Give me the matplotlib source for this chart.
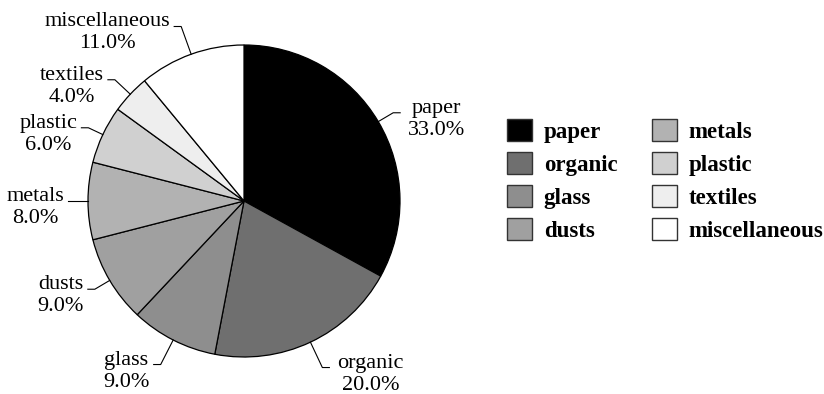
import numpy as np
import matplotlib
matplotlib.use("Agg")
import matplotlib.pyplot as plt

# Municipal solid waste composition (%)
categories = ["paper", "organic", "glass", "dusts", "metals", "plastic", "textiles", "miscellaneous"]
shares = [33.0, 20.0, 9.0, 9.0, 8.0, 6.0, 4.0, 11.0]
colors = ["#000000", "#6f6f6f", "#8e8e8e", "#a0a0a0", "#b2b2b2", "#d0d0d0", "#eeeeee", "#ffffff"]

W, H = 824, 394
plt.rcParams["font.family"] = ["Liberation Serif", "DejaVu Serif"]
LABEL_SIZE = 16

fig = plt.figure(figsize=(W / 100, H / 100), dpi=100)
ax = fig.add_axes([0, 0, 1, 1])

cx, cy, r = 244, H - 201, 156
wedges, _ = ax.pie(shares, colors=colors, startangle=90, counterclock=False,
                   center=(cx, cy), radius=r, frame=True,
                   wedgeprops=dict(edgecolor="black", linewidth=0.9))
ax.set_xlim(0, W)
ax.set_ylim(0, H)
ax.set_aspect("equal")
ax.axis("off")

renderer = fig.canvas.get_renderer()

# leader lines: radial spoke to an elliptical ring, then a short horizontal tick
rx, ry = 1.083 * r, 1.205 * r
tick, line_step = 7, 22
gap = {1: 8, -1: 4}
for w, name, val in zip(wedges, categories, shares):
    ang = np.deg2rad((w.theta1 + w.theta2) / 2)
    c, s = np.cos(ang), np.sin(ang)
    t = 1.0 / np.sqrt((c / rx) ** 2 + (s / ry) ** 2)
    p0 = (cx + r * c, cy + r * s)
    p1 = (cx + t * c, cy + t * s)
    side = 1 if c > 1e-6 else -1
    p2 = (p1[0] + side * tick, p1[1])
    ax.plot([p0[0], p1[0], p2[0]], [p0[1], p1[1], p2[1]], color="black", lw=0.8)

    # both lines are centred on a common axis; the name sits on the tick's baseline
    pct = f"{val:.1f}%"
    t1 = ax.text(0, 0, name, fontsize=LABEL_SIZE)
    t2 = ax.text(0, 0, pct, fontsize=LABEL_SIZE)
    w1 = t1.get_window_extent(renderer).width
    w2 = t2.get_window_extent(renderer).width
    wmax = max(w1, w2)
    xc = p2[0] + side * (gap[side] + wmax / 2)
    for txt, y in ((t1, p2[1]), (t2, p2[1] - line_step)):
        txt.set_position((xc, y))
        txt.set_ha("center")
        txt.set_va("baseline")

leg = ax.legend(wedges, categories, ncol=2, loc="upper left",
                bbox_to_anchor=(507 / W, (H - 119) / H), bbox_transform=fig.transFigure,
                frameon=False, borderpad=0, borderaxespad=0,
                prop=dict(family="Liberation Serif", weight="bold", size=16.5),
                handlelength=1.1, handleheight=1.1, handletextpad=0.5,
                labelspacing=0.4, columnspacing=1.5)
for h in leg.legend_handles:
    h.set_edgecolor("#333333")
    h.set_linewidth(1.0)

fig.savefig("out.png", dpi=100)
